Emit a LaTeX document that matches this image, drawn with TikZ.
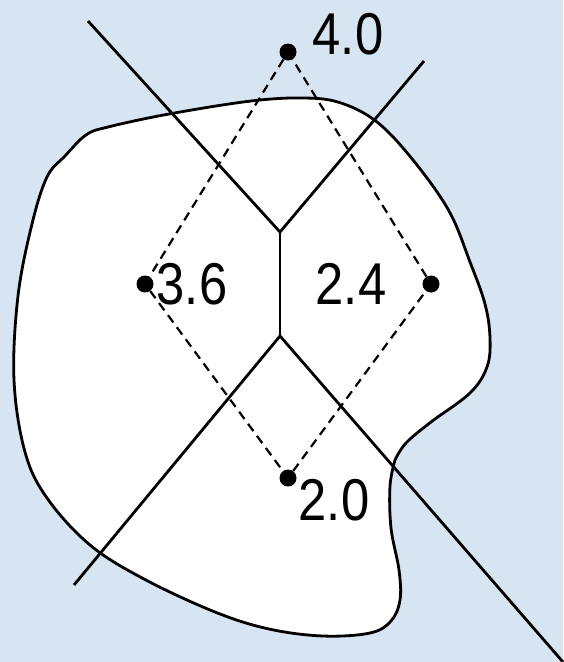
\documentclass[tikz,border=0pt]{standalone}
\usepackage{fontspec}
\setmainfont{Liberation Sans}
\definecolor{bgblue}{RGB}{214,229,241}
\newcommand{\narrow}[1]{\scalebox{0.86}[1]{#1}}
\begin{document}
\begin{tikzpicture}[x=1pt, y=-1pt,
    site/.style={circle, fill=black, inner sep=0pt, minimum size=17pt},
    val/.style={inner sep=0pt, font=\fontsize{59}{59}\selectfont},
    ridge/.style={line width=2.8pt},
    link/.style={line width=2.2pt, dash pattern=on 9pt off 6pt}]
    % Background
    \fill[bgblue] (0,0) rectangle (563,662);
    \useasboundingbox (0,0) rectangle (563,662);
    % Region outline
    \filldraw[fill=white, ridge, line join=round] plot[smooth, tension=0.6] coordinates {
        (395,460) (390,486) (391,528) (399,570) (400,600) (391,621) (370,633)
        (323,636) (269,629) (215,612) (144,579) (90,545) (47,498) (25,452)
        (14,380) (18,296) (32,224) (47,177) (65,156) (86,135) (108,127)
        (169,114) (251,101) (305,98) (341,103) (377,122) (413,160) (449,211)
        (470,262) (485,304) (490,338) (487,367) (470,393) (431,422) (406,443)
        (395,460)} -- cycle;
    % Coordinate
    \coordinate (vtop) at (280,232);
    \coordinate (vbot) at (280,336);
    \coordinate (eul) at (88,21);
    \coordinate (eur) at (424,61);
    \coordinate (ell) at (74,585);
    \coordinate (elr) at (563,662);
    % Sites
    \node[site] (p40) at (288,52) {};
    \node[site] (p36) at (145,284) {};
    \node[site] (p24) at (431,284) {};
    \node[site] (p20) at (288,478) {};
    % Lines
    \draw[ridge] (eul) -- (vtop) -- (eur);
    \draw[ridge] (vtop) -- (vbot);
    \draw[ridge] (ell) -- (vbot) -- (elr);
    \draw[link] (p40) -- (p36);
    \draw[link] (p36) -- (p20);
    \draw[link] (p20) -- (p24);
    \draw[link] (p24) -- (p40);
    % Values
    \node[val] (t40) at (348,34) {\narrow{4.0}};
    \node[val] (t36) at (192,284) {\narrow{3.6}};
    \node[val] (t24) at (351,284) {\narrow{2.4}};
    \node[val] (t20) at (334,500) {\narrow{2.0}};
\end{tikzpicture}
\end{document}
